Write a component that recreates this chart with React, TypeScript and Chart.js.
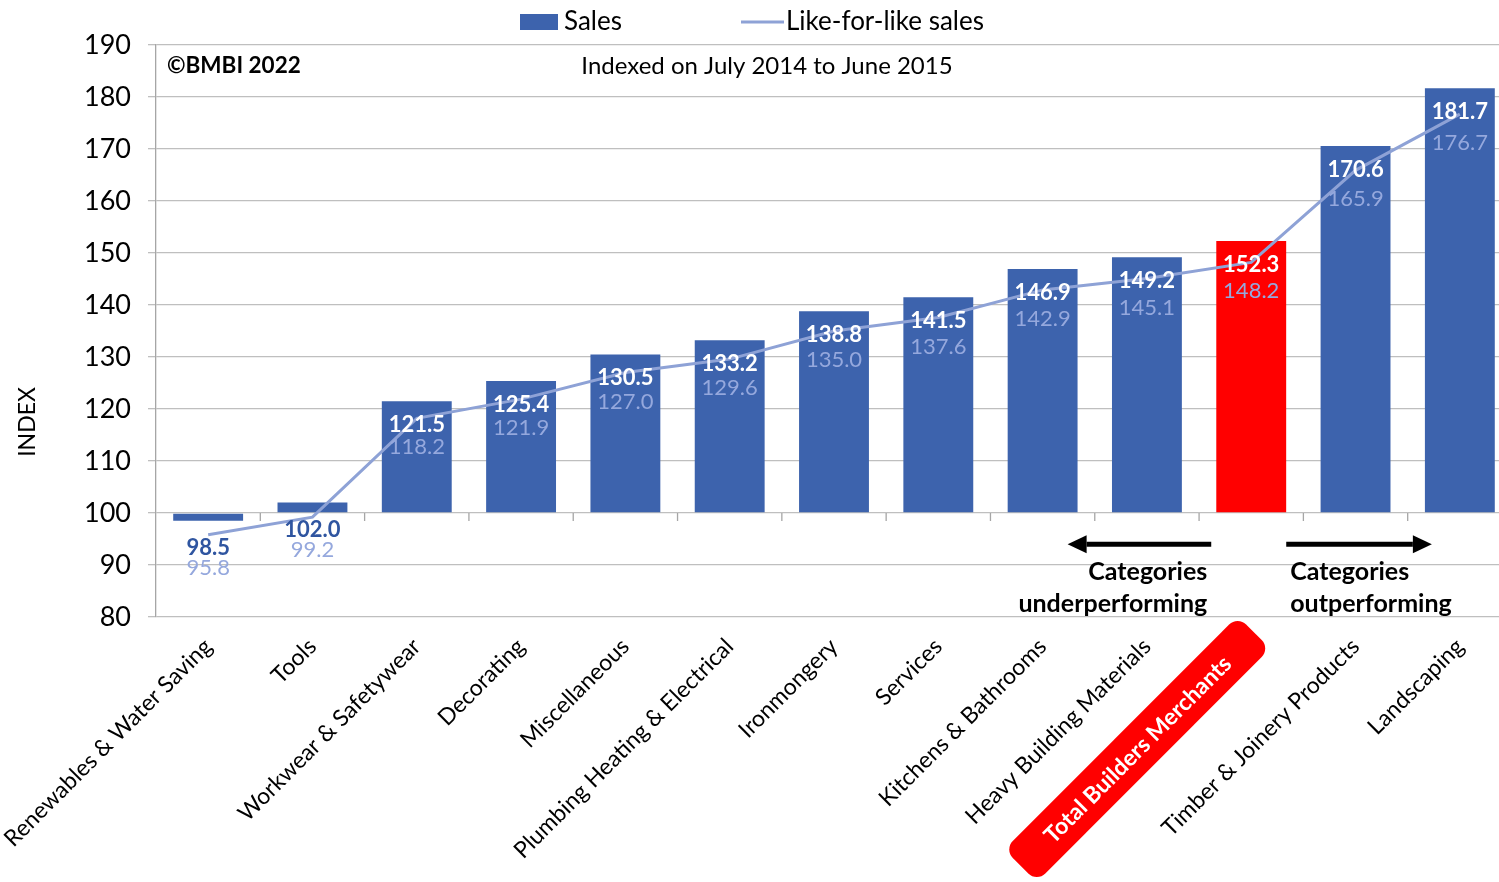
import React, { useEffect, useRef } from "react";
import { Chart, registerables } from "chart.js";

Chart.register(...registerables);

// ---------- data ----------
const categories = [
  "Renewables & Water Saving",
  "Tools",
  "Workwear & Safetywear",
  "Decorating",
  "Miscellaneous",
  "Plumbing Heating & Electrical",
  "Ironmongery",
  "Services",
  "Kitchens & Bathrooms",
  "Heavy Building Materials",
  "Total Builders Merchants",
  "Timber & Joinery Products",
  "Landscaping",
];
const salesValues = [98.5, 102.0, 121.5, 125.4, 130.5, 133.2, 138.8, 141.5, 146.9, 149.2, 152.3, 170.6, 181.7];
const lflValues = [95.8, 99.2, 118.2, 121.9, 127.0, 129.6, 135.0, 137.6, 142.9, 145.1, 148.2, 165.9, 176.7];
const yMin = 80;
const yMax = 190;
const yStep = 10;
const baseValue = 100;
const highlightIndex = 10;
const legendLabels = ["Sales", "Like-for-like sales"];
const copyrightText = "©BMBI 2022";
const subtitleText = "Indexed on July 2014 to June 2015";
const yTitle = "INDEX";
const underText = ["Categories", "underperforming"];
const outText = ["Categories", "outperforming"];

// ---------- styles ----------
const BLUE = "#3D63AD";
const RED = "#FF0000";
const LINE = "#8EA2D6";
const LFL_LABEL = "#95A8DD";
const DARK = "#2F55A0";
const GRID = "#BFBFBF";
const AXIS = "#A6A6A6";
const FONT = "Lato, 'Open Sans', sans-serif";

export default function App() {
  const ref = useRef<HTMLCanvasElement>(null);

  useEffect(() => {
    const canvas = ref.current!;

    const overlay = {
      id: "overlay",
      beforeDatasetsDraw(chart: any) {
        const ctx = chart.ctx as CanvasRenderingContext2D;
        const xs = chart.scales.x;
        const ys = chart.scales.y;
        const y0 = ys.getPixelForValue(baseValue);
        ctx.save();
        ctx.strokeStyle = AXIS;
        ctx.lineWidth = 1.3;
        for (let i = 0; i < categories.length - 1; i++) {
          const bx = (xs.getPixelForValue(i) + xs.getPixelForValue(i + 1)) / 2;
          ctx.beginPath();
          ctx.moveTo(bx, y0);
          ctx.lineTo(bx, y0 + 8);
          ctx.stroke();
        }
        ctx.restore();
      },
      afterDatasetsDraw(chart: any) {
        const ctx = chart.ctx as CanvasRenderingContext2D;
        const xs = chart.scales.x;
        const ys = chart.scales.y;
        ctx.save();
        ctx.textAlign = "center";
        ctx.textBaseline = "middle";
        salesValues.forEach((v, i) => {
          const cx = xs.getPixelForValue(i);
          const lflY = ys.getPixelForValue(lflValues[i]);
          if (v >= 110) {
            const top = ys.getPixelForValue(v);
            ctx.font = `bold 22px ${FONT}`;
            ctx.fillStyle = "#FFFFFF";
            ctx.fillText(v.toFixed(1), cx, top + 24);
            ctx.font = `22px ${FONT}`;
            ctx.fillStyle = LFL_LABEL;
            ctx.fillText(lflValues[i].toFixed(1), cx, lflY + 29);
          } else {
            const ly = lflY + 33;
            ctx.font = `bold 22px ${FONT}`;
            ctx.fillStyle = DARK;
            ctx.fillText(v.toFixed(1), cx, ly - 20);
            ctx.font = `22px ${FONT}`;
            ctx.fillStyle = LFL_LABEL;
            ctx.fillText(lflValues[i].toFixed(1), cx, ly);
          }
        });
        ctx.restore();
      },
      afterDraw(chart: any) {
        const ctx = chart.ctx as CanvasRenderingContext2D;
        const xs = chart.scales.x;
        const ys = chart.scales.y;
        const area = chart.chartArea;
        ctx.save();
        // legend
        ctx.fillStyle = BLUE;
        ctx.fillRect(520, 14, 38, 16);
        ctx.fillStyle = "#000";
        ctx.font = `26px ${FONT}`;
        ctx.textAlign = "left";
        ctx.textBaseline = "middle";
        ctx.fillText(legendLabels[0], 564, 22);
        ctx.strokeStyle = LINE;
        ctx.lineWidth = 3;
        ctx.beginPath();
        ctx.moveTo(741, 22);
        ctx.lineTo(784, 22);
        ctx.stroke();
        ctx.fillText(legendLabels[1], 786, 22);

        // in-plot texts
        ctx.font = `bold 22.5px ${FONT}`;
        ctx.fillText(copyrightText, 167, 66);
        ctx.font = `24px ${FONT}`;
        ctx.textAlign = "center";
        ctx.fillText(subtitleText, 767, 66);

        // y title
        ctx.save();
        ctx.translate(28, 422);
        ctx.rotate(-Math.PI / 2);
        ctx.font = `23px ${FONT}`;
        ctx.fillText(yTitle, 0, 0);
        ctx.restore();

        // arrows
        const ay = ys.getPixelForValue(94);
        const drawArrow = (x1: number, x2: number) => {
          const dir = Math.sign(x2 - x1);
          const head = 19;
          ctx.strokeStyle = "#000";
          ctx.fillStyle = "#000";
          ctx.lineWidth = 5;
          ctx.beginPath();
          ctx.moveTo(x1, ay);
          ctx.lineTo(x2 - dir * head, ay);
          ctx.stroke();
          ctx.beginPath();
          ctx.moveTo(x2, ay);
          ctx.lineTo(x2 - dir * head, ay - 9);
          ctx.lineTo(x2 - dir * head, ay + 9);
          ctx.closePath();
          ctx.fill();
        };
        const c10 = xs.getPixelForValue(highlightIndex);
        drawArrow(c10 - 40, xs.getPixelForValue(8) + 25);
        drawArrow(c10 + 35, xs.getPixelForValue(12) - 28);

        const y0 = ys.getPixelForValue(baseValue);
        ctx.font = `bold 25px ${FONT}`;
        ctx.fillStyle = "#000";
        ctx.textAlign = "right";
        ctx.fillText(underText[0], c10 - 44, y0 + 59);
        ctx.fillText(underText[1], c10 - 44, y0 + 91);
        ctx.textAlign = "left";
        ctx.fillText(outText[0], c10 + 39, y0 + 59);
        ctx.fillText(outText[1], c10 + 39, y0 + 91);

        // highlighted category label in a red rounded box
        ctx.save();
        ctx.translate(c10 - 114, area.bottom + 132);
        ctx.rotate(-Math.PI / 4);
        ctx.fillStyle = RED;
        ctx.beginPath();
        (ctx as any).roundRect(-165, -23, 330, 46, 12);
        ctx.fill();
        ctx.fillStyle = "#FFFFFF";
        ctx.font = `bold 23px ${FONT}`;
        ctx.textAlign = "center";
        ctx.textBaseline = "middle";
        ctx.fillText(categories[highlightIndex], 0, 1);
        ctx.restore();

        ctx.restore();
      },
    };

    const chart = new Chart(canvas, {
      type: "bar",
      data: {
        labels: categories,
        datasets: [
          {
            type: "line",
            label: legendLabels[1],
            data: lflValues,
            borderColor: LINE,
            backgroundColor: LINE,
            borderWidth: 3,
            pointRadius: 0,
            tension: 0,
            order: 1,
          } as any,
          {
            type: "bar",
            label: legendLabels[0],
            data: salesValues,
            base: baseValue,
            backgroundColor: categories.map((_, i) => (i === highlightIndex ? RED : BLUE)),
            barPercentage: 0.67,
            categoryPercentage: 1,
            order: 2,
          } as any,
        ],
      },
      options: {
        responsive: false,
        animation: false,
        devicePixelRatio: 1,
        layout: { padding: { top: 45, right: 8, left: 0, bottom: 0 } },
        plugins: { legend: { display: false }, tooltip: { enabled: false } },
        scales: {
          x: {
            grid: { display: false },
            border: { display: false },
            ticks: {
              autoSkip: false,
              maxRotation: 45,
              minRotation: 45,
              padding: 8,
              color: (c: any) => (c.index === highlightIndex ? "rgba(0,0,0,0)" : "#000000"),
              font: { family: FONT, size: 23 },
            },
            afterFit: (s: any) => {
              s.height = 265;
              s.paddingLeft = 0;
              s.paddingRight = 0;
            },
          },
          y: {
            min: yMin,
            max: yMax,
            ticks: { stepSize: yStep, color: "#000", font: { family: FONT, size: 27 }, padding: 17 },
            grid: { color: GRID, lineWidth: 1.3, tickLength: 8 },
            border: { color: AXIS, width: 1.3 },
            afterFit: (s: any) => {
              s.width = 156;
              s.paddingTop = 0;
              s.paddingBottom = 0;
            },
          },
        },
      },
      plugins: [overlay],
    } as any);

    return () => chart.destroy();
  }, []);

  return (
    <div
      style={{
        position: "absolute",
        left: 0,
        top: 0,
        width: 1499,
        height: 882,
        overflow: "hidden",
        background: "#fff",
      }}
    >
      <canvas ref={ref} width={1520} height={882} style={{ display: "block", width: 1520, height: 882 }} />
    </div>
  );
}
